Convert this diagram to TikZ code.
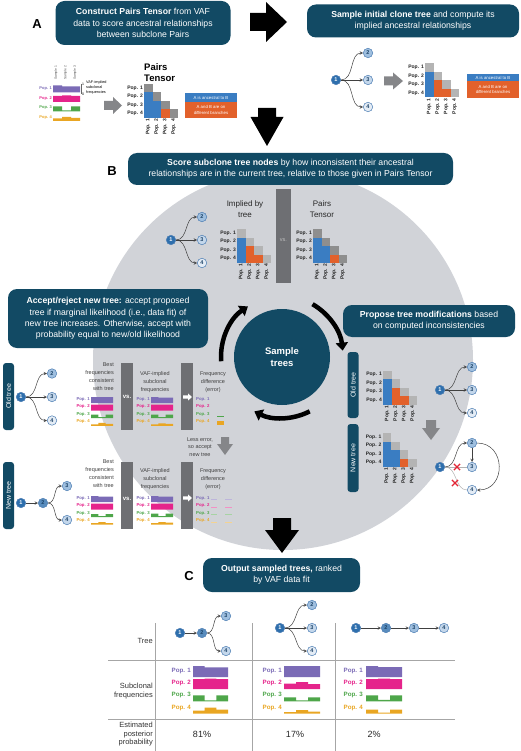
\documentclass[tikz,border=0pt]{standalone}
\usepackage{fontspec}
\setmainfont{Liberation Sans}
\usetikzlibrary{arrows.meta,shapes.misc}
\definecolor{boxteal}{HTML}{124A64}
\definecolor{circgray}{HTML}{D1D3D8}
\definecolor{bargray}{HTML}{6E6F73}
\definecolor{arrowgray}{HTML}{858689}
\definecolor{ancblue}{HTML}{3A7DC2}
\definecolor{brorange}{HTML}{E2612B}
\definecolor{diagdark}{HTML}{8E8E8E}
\definecolor{diaglight}{HTML}{B4B4B4}
\definecolor{popA}{HTML}{7B6BB6}
\definecolor{popB}{HTML}{E5248B}
\definecolor{popC}{HTML}{4EA64A}
\definecolor{popD}{HTML}{E9A623}
\definecolor{nodeA}{HTML}{2E6FAD}
\definecolor{nodeB}{HTML}{9FBFDF}
\definecolor{nodeC}{HTML}{C4D7EB}
\definecolor{nodeD}{HTML}{E4ECF5}
\definecolor{nodeline}{HTML}{4C7DB3}
\definecolor{redx}{HTML}{E32636}
\tikzset{
stepbox/.style={rectangle, rounded corners=9pt, fill=boxteal, text=white, align=center, inner sep=0pt, font=\fontsize{8.7}{11.2}\selectfont},
clone/.style={circle, draw=nodeline, line width=0.5pt, minimum size=9.5pt, inner sep=0pt, text=nodeA!60!black, font=\fontsize{5.5}{5.5}\selectfont\bfseries},
branch/.style={->, >=stealth, line width=0.5pt, draw=black!75},
deadedge/.style={line width=0.5pt, draw=black!30},
treetag/.style={rectangle, rounded corners=3pt, fill=boxteal, text=white, rotate=90, minimum height=11pt, inner sep=0pt, font=\fontsize{7}{7}\selectfont},
small/.style={inner sep=0pt, align=center, text=black!75, font=\fontsize{5.5}{7.8}\selectfont},
midtext/.style={inner sep=0pt, align=center, text=black!85, font=\fontsize{8}{11}\selectfont},
poplab/.style={inner sep=0pt, font=\fontsize{4.3}{4.3}\selectfont\bfseries},
matlab/.style={inner sep=0pt, font=\fontsize{5}{5}\selectfont\bfseries, text=black!85},
legendbox/.style={rectangle, inner sep=0pt, text=white, align=center, font=\fontsize{4.3}{5.2}\selectfont},
vslab/.style={inner sep=0pt, text=white, font=\fontsize{6}{6}\selectfont\bfseries},
rowlab/.style={inner sep=0pt, text=black!80, font=\fontsize{7.5}{8.5}\selectfont},
cycarrow/.style={line width=4.5pt, -{Triangle[length=8pt,width=12pt]}},
panel/.style={font=\fontsize{13}{13}\selectfont\bfseries},
crossx/.style={cross out, draw=redx, line width=1.2pt, minimum size=5pt, inner sep=0pt},
rulegray/.style={draw=black!35, line width=0.6pt}}

% step bar: x, base, width, h1, h2, h3, colour
\newcommand{\fbar}[7]{\fill[#7] (#1,#2) -- (#1,#2-#4) -- (#1+#3/3,#2-#4) -- (#1+#3/3,#2-#5) -- (#1+2*#3/3,#2-#5) -- (#1+2*#3/3,#2-#6) -- (#1+#3,#2-#6) -- (#1+#3,#2) -- cycle;}
% labels and bars: prefix, label x, first row, row step, bar x, bar width, list, base offset, font size
\newcommand{\popbars}[9]{%
\foreach \k/\co/\ha/\hb/\hc in {#7}{
  \node[poplab, text=\co, anchor=east, font=\fontsize{#9}{#9}\selectfont\bfseries] (#1p\k) at (#2,#3+\k*#4-#4) {Pop. \k};
  \fbar{#5}{#3+\k*#4-#4+#8}{#6}{\ha}{\hb}{\hc}{\co}
}}
% pairs matrix: prefix, x0, y0, cell, diagonal colour, cells
\newcommand{\tensor}[6]{%
\foreach \k in {1,...,4}{
  \fill[#5] (#2+\k*#4-#4,#3+\k*#4-#4) rectangle ++(#4,#4);
  \node[matlab, anchor=east] (#1r\k) at (#2-1,#3+\k*#4-#4/2) {Pop. \k};
  \node[matlab, rotate=90, anchor=east] (#1c\k) at (#2+\k*#4-#4/2,#3+4*#4+1) {Pop. \k};
}
\foreach \ri/\ci/\co in #6{
  \fill[\co] (#2+\ci*#4-#4,#3+\ri*#4-#4) rectangle ++(#4,#4);}
}
% fan tree: prefix, x1, y, x2, dy
\newcommand{\fantree}[5]{%
\node[clone, fill=nodeA, text=white] (#1n1) at (#2,#3) {1};
\node[clone, fill=nodeB] (#1n2) at (#4,#3-#5) {2};
\node[clone, fill=nodeC] (#1n3) at (#4,#3) {3};
\node[clone, fill=nodeD] (#1n4) at (#4,#3+#5) {4};
\draw[branch] (#1n1.east) to[out=0,in=180] (#1n2.west);
\draw[branch] (#1n1) -- (#1n3);
\draw[branch] (#1n1.east) to[out=0,in=180] (#1n4.west);
}
% block arrows
\newcommand{\downblock}[7]{\fill[#7] (#1-#3,#2) -- (#1+#3,#2) -- (#1+#3,#4) -- (#1+#5,#4) -- (#1,#6) -- (#1-#5,#4) -- (#1-#3,#4) -- cycle;}
\newcommand{\rightblock}[7]{\fill[#7] (#2,#1-#3) -- (#4,#1-#3) -- (#4,#1-#5) -- (#6,#1) -- (#4,#1+#5) -- (#4,#1+#3) -- (#2,#1+#3) -- cycle;}
\newcommand{\implcells}{2/1/ancblue,3/1/ancblue,3/2/brorange,4/1/ancblue,4/2/brorange,4/3/brorange}
\newcommand{\paircells}{2/1/ancblue,3/1/ancblue,3/2/ancblue,4/1/ancblue,4/2/ancblue,4/3/brorange}

\begin{document}
\begin{tikzpicture}[x=1pt,y=-1pt]
\useasboundingbox (0,0) rectangle (520,751);
\fill[circgray] (283,360) circle[radius=190];

% A
\node[panel] (labA) at (37,24) {A};
\node[stepbox, minimum width=175, minimum height=44] (boxA) at (143,23) {\textbf{Construct Pairs Tensor} from VAF\\data to score ancestral relationships\\between subclone Pairs};
\node[stepbox, minimum width=212, minimum height=33] (boxInit) at (413,21) {\textbf{Sample initial clone tree} and compute its\\implied ancestral relationships};
\rightblock{22}{250}{9}{266}{20}{287}{black}
\downblock{267}{108}{9}{117}{16.5}{146}{black}

\foreach \k/\xx in {1/56,2/65.5,3/75}
  \node[rotate=90, anchor=west, inner sep=0pt, font=\fontsize{3.3}{3.3}\selectfont, text=black!70] (samp\k) at (\xx,80) {Sample \k};
\popbars{pa}{52}{89}{9.5}{53}{27}{1/popA/7/6/6,2/popB/6/6.5/6,3/popC/5/1/5,4/popD/2.5/4/3}{3.5}{4}
\draw[black!60, line width=0.3pt] (81,84) -- (81,94);
\node[inner sep=0pt, font=\fontsize{3.5}{3.5}\selectfont] (sc1) at (83,84) {1};
\node[inner sep=0pt, font=\fontsize{3.5}{3.5}\selectfont] (sc0) at (83,94) {0};
\node[anchor=north west, align=left, inner sep=0pt, font=\fontsize{3.8}{4.8}\selectfont] (vafA) at (86,81) {VAF-implied\\subclonal\\frequencies};
\rightblock{105.5}{104}{4.5}{113}{8.5}{122}{arrowgray}
\node[anchor=west, align=left, inner sep=0pt, font=\fontsize{9.5}{10.5}\selectfont\bfseries] (ptitle) at (144,72.5) {Pairs\\Tensor};
\tensor{pt}{144}{84}{8.5}{diagdark}{\paircells}
\node[legendbox, fill=ancblue, minimum width=52, minimum height=9] (lgA1) at (211,97.5) {A is ancestral to B};
\node[legendbox, fill=brorange, minimum width=52, minimum height=16] (lgA2) at (211,110) {A and B are on\\different branches};

\fantree{ta}{336}{80}{368}{27}
\rightblock{81}{384}{4.5}{393}{8.5}{403}{arrowgray}
\tensor{ia}{425}{63.5}{8.5}{diaglight}{\implcells}
\node[legendbox, fill=ancblue, minimum width=52, minimum height=7.5] (lgB1) at (493,77.75) {A is ancestral to B};
\node[legendbox, fill=brorange, minimum width=52, minimum height=16.5] (lgB2) at (493,89.75) {A and B are on\\different branches};

% B
\node[panel] (labB) at (112,171) {B};
\node[stepbox, minimum width=325, minimum height=32] (boxB) at (290.5,169) {\textbf{Score subclone tree nodes} by how inconsistent their ancestral\\relationships are in the current tree, relative to those given in Pairs Tensor};
\fantree{tb}{171}{240}{202}{23}
\node[midtext] (implT) at (245,209) {Implied by\\tree};
\tensor{ib}{237}{229}{8.5}{diaglight}{\implcells}
\fill[bargray] (276,189) rectangle (291,283);
\node[vslab, text=black!25, font=\fontsize{5.5}{5.5}\selectfont] (vsB) at (283.5,240) {vs.};
\node[midtext] (pairT) at (322,209) {Pairs\\Tensor};
\tensor{pb}{313}{229}{8.5}{diagdark}{\paircells}

\node[circle, fill=boxteal, minimum size=96, text=white, align=center, font=\fontsize{9.5}{11.5}\selectfont\bfseries] (st) at (282,357) {Sample\\trees};
\draw[cycarrow] ([shift={(-184:61)}]st.center) arc[start angle=-184, end angle=-124, radius=61];
\draw[cycarrow] ([shift={(-60:61)}]st.center) arc[start angle=-60, end angle=-6, radius=61];
\draw[cycarrow] ([shift={(63:61)}]st.center) arc[start angle=63, end angle=117, radius=61];

\node[stepbox, minimum width=200, minimum height=59] (boxAcc) at (108,318.5) {\textbf{Accept/reject new tree:} accept proposed\\tree if marginal likelihood (i.e., data fit) of\\new tree increases. Otherwise, accept with\\probability equal to new/old likelihood};
\node[stepbox, minimum width=172, minimum height=32] (boxProp) at (429,321) {\textbf{Propose tree modifications} based\\on computed inconsistencies};

\node[treetag, minimum width=66] (otag) at (353,385) {Old tree};
\tensor{ot}{383}{370.5}{8.5}{diaglight}{\implcells}
\fantree{or}{440}{390}{472}{23}
\downblock{431}{420}{5}{428}{9}{440}{arrowgray}
\node[treetag, minimum width=68] (ntag) at (353,458) {New tree};
\tensor{nt}{382.5}{433}{8.5}{diaglight}{\paircells}
\node[clone, fill=nodeA, text=white] (mtn1) at (440,467) {1};
\node[clone, fill=nodeB] (mtn2) at (472,443) {2};
\node[clone, fill=nodeC] (mtn3) at (472,467) {3};
\node[clone, fill=nodeD] (mtn4) at (472,490) {4};
\draw[deadedge] (mtn1) -- (mtn3);
\draw[deadedge] (mtn1.east) to[out=0,in=180] (mtn4.west);
\draw[branch] (mtn1.east) to[out=0,in=180] (mtn2.west);
\draw[branch] (mtn2) -- (mtn3);
\draw[branch] (mtn2.east) to[out=0,in=0,looseness=1.6] (mtn4.east);
\node[crossx] (xa) at (457,467) {};
\node[crossx] (xb) at (455,483) {};

% old tree, left
\node[treetag, minimum width=67] (oltag) at (8.5,396.5) {Old tree};
\fantree{ol}{21}{397}{52}{23.5}
\node[small, anchor=north east, align=right] (olbest) at (114,363) {Best\\frequencies\\consistent\\with tree};
\popbars{olb}{90}{399}{7.6}{91}{22}{1/popA/6/6/6,2/popB/6/6/6,3/popC/3.5/1/3.5,4/popD/1.5/3/2}{4}{4.3}
\fill[bargray] (121,363) rectangle (133,430);
\node[vslab] (olvs) at (127,397) {vs.};
\node[small] (olvaf) at (155,382) {VAF-implied\\subclonal\\frequencies};
\popbars{olv}{150}{399}{7.6}{151}{22}{1/popA/6/5.5/5.5,2/popB/6/6/6,3/popC/3.5/1/3.5,4/popD/1.5/2.5/2}{4}{4.3}
\fill[bargray] (181,363) rectangle (193,430);
\rightblock{397}{183}{1.6}{188}{3.6}{192}{white}
\node[small] (oldiff) at (213,382) {Frequency\\difference\\(error)};
\foreach \k/\co in {1/popA,2/popB,3/popC,4/popD}
  \node[poplab, text=\co, anchor=west] (old\k) at (196,399+\k*7.6-7.6) {Pop. \k};
\fill[popC] (217,416.3) rectangle (224,417.1);
\fill[popD] (217,421) rectangle (224,424.5);
\node[small] (less) at (200,447) {Less error,\\so accept\\new tree};
\downblock{225}{437}{4}{444}{8}{455}{arrowgray}

% new tree, left
\node[treetag, minimum width=67] (nltag) at (8.5,495.5) {New tree};
\node[clone, fill=nodeA, text=white] (nln1) at (21,503) {1};
\node[clone, fill=nodeA!80] (nln2) at (43,503) {2};
\node[clone, fill=nodeB] (nln3) at (67,486) {3};
\node[clone, fill=nodeC] (nln4) at (67,520) {4};
\draw[branch] (nln1) -- (nln2);
\draw[branch] (nln2.east) to[out=0,in=180] (nln3.west);
\draw[branch] (nln2.east) to[out=0,in=180] (nln4.west);
\node[small, anchor=north east, align=right] (nlbest) at (114,460) {Best\\frequencies\\consistent\\with tree};
\popbars{nlb}{90}{498}{7.5}{91}{22}{1/popA/6/5.5/5.5,2/popB/6/6/6,3/popC/3/1/3,4/popD/1.5/2.5/1.5}{4}{4.3}
\fill[bargray] (121,462) rectangle (133,529);
\node[vslab] (nlvs) at (127,499) {vs.};
\node[small] (nlvaf) at (155,479) {VAF-implied\\subclonal\\frequencies};
\popbars{nlv}{150}{498}{7.5}{151}{22}{1/popA/6/5.5/5.5,2/popB/6/6/6,3/popC/3.5/1/3.5,4/popD/1.5/2.5/2}{4}{4.3}
\fill[bargray] (181,462) rectangle (193,529);
\rightblock{498}{183}{1.6}{188}{3.6}{192}{white}
\node[small] (nldiff) at (213,479) {Frequency\\difference\\(error)};
\foreach \k/\co in {1/popA,2/popB,3/popC,4/popD}{
  \node[poplab, text=\co, anchor=west] (nld\k) at (196,498+\k*7.5-7.5) {Pop. \k};
  \draw[\co!50, line width=0.4pt] (211,499.5+\k*7.5-7.5) -- (217,499.5+\k*7.5-7.5);
  \draw[\co!50, line width=0.4pt] (225,499.5+\k*7.5-7.5) -- (232,499.5+\k*7.5-7.5);
}
\downblock{282}{518}{9}{530}{17}{553}{black}

% C
\node[panel] (labC) at (189,576) {C};
\node[stepbox, minimum width=157, minimum height=34] (boxC) at (281.5,575) {\textbf{Output sampled trees,} ranked\\by VAF data fit};
\draw[rulegray] (108,660) -- (455,660);
\draw[rulegray] (108,719) -- (455,719);
\foreach \xx in {155,252,335}
  \draw[rulegray] (\xx,623) -- (\xx,751);
\node[rowlab, anchor=east] (rtree) at (153,641) {Tree};
\node[rowlab, anchor=east, align=right] (rfreq) at (153,691) {Subclonal\\frequencies};
\node[rowlab, anchor=east, align=right] (rprob) at (153,734.5) {Estimated\\posterior\\probability};

\node[clone, fill=nodeA, text=white] (c1n1) at (180,633) {1};
\node[clone, fill=nodeA!80] (c1n2) at (202,633) {2};
\node[clone, fill=nodeB] (c1n3) at (226,616) {3};
\node[clone, fill=nodeC] (c1n4) at (226,651) {4};
\draw[branch] (c1n1) -- (c1n2);
\draw[branch] (c1n2.east) to[out=0,in=180] (c1n3.west);
\draw[branch] (c1n2.east) to[out=0,in=180] (c1n4.west);
\fantree{c2}{280}{628}{312}{23}
\node[clone, fill=nodeA, text=white] (c3n1) at (356,628) {1};
\node[clone, fill=nodeA!80] (c3n2) at (386,628) {2};
\node[clone, fill=nodeB] (c3n3) at (414,628) {3};
\node[clone, fill=nodeC] (c3n4) at (444,628) {4};
\draw[branch] (c3n1) -- (c3n2);
\draw[branch] (c3n2) -- (c3n3);
\draw[branch] (c3n3) -- (c3n4);

\popbars{f1}{191}{671}{12.2}{193}{35}{1/popA/11/9.7/9.7,2/popB/10/10.5/10,3/popC/6/1/6,4/popD/3/6/4}{6}{6.2}
\popbars{f2}{282}{671}{12.2}{284}{36}{1/popA/11/11/11,2/popB/5.5/7/5,3/popC/4/1/4,4/popD/1.5/3.5/2}{6}{6.2}
\popbars{f3}{363}{671}{12.2}{366}{36}{1/popA/11/10/10,2/popB/10/10.5/10,3/popC/6/1.5/6,4/popD/4/1/4}{6}{6.2}
\node[midtext, font=\fontsize{9}{9}\selectfont] (prob1) at (202,734) {81\%};
\node[midtext, font=\fontsize{9}{9}\selectfont] (prob2) at (295,734) {17\%};
\node[midtext, font=\fontsize{9}{9}\selectfont] (prob3) at (374,734) {2\%};
\end{tikzpicture}
\end{document}
